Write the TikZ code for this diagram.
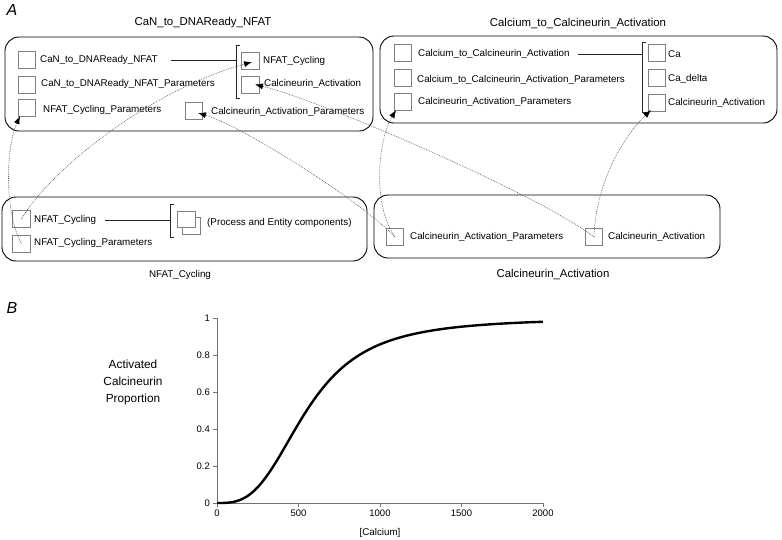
\documentclass[tikz,border=0pt]{standalone}
\usepackage{fontspec}
\setmainfont{Liberation Sans}
\usetikzlibrary{arrows.meta,calc}
\begin{document}
\begin{tikzpicture}[x=1pt,y=-1pt,
  bigbox/.style={draw=black, line width=0.9pt, rounded corners=14pt, inner sep=0pt},
  sq/.style={draw=black!50, line width=0.55pt, minimum width=17.5pt, minimum height=17pt, inner sep=0pt},
  lbl/.style={anchor=west, inner sep=0pt, font=\fontsize{9.8}{11}\selectfont},
  ttl/.style={inner sep=0pt, font=\fontsize{11.4}{13}\selectfont},
  brk/.style={draw=black!85, line width=0.8pt},
  link/.style={draw=black!85, line width=0.8pt},
  imp/.style={draw=black!65, line width=0.6pt, dash pattern=on 0.8pt off 1pt, -{Latex[length=8pt,width=6pt,black]}},
  panel/.style={inner sep=0pt, font=\fontsize{16}{18}\selectfont\itshape},
  axis/.style={draw=black!55, line width=0.7pt},
  tick/.style={inner sep=0pt, font=\fontsize{9.5}{11}\selectfont},
]
\useasboundingbox (0,0) rectangle (782,539);

% panel letters
\node[panel] (pA) at (12,10) {A};
\node[panel] (pB) at (12,308) {B};

% ---------- big boxes ----------
\node[bigbox, minimum width=368pt, minimum height=94pt] (B1) at (189,84) {};
\node[bigbox, minimum width=397pt, minimum height=87pt] (B2) at (578.5,79.5) {};
\node[bigbox, minimum width=365pt, minimum height=64pt] (B3) at (184.5,229) {};
\node[bigbox, minimum width=346pt, minimum height=63pt] (B4) at (547,226.5) {};

\node[ttl] (T1) at (203,23) {CaN\_to\_DNAReady\_NFAT};
\node[ttl] (T2) at (578,23) {Calcium\_to\_Calcineurin\_Activation};
\node[inner sep=0pt, font=\fontsize{9.8}{11}\selectfont] (T3) at (180,275) {NFAT\_Cycling};
\node[ttl] (T4) at (553,274) {Calcineurin\_Activation};

% ---------- box 1 ----------
\node[sq] (s11) at (27,60) {};
\node[lbl] (t11) at (40,60) {CaN\_to\_DNAReady\_NFAT};
\node[sq] (s12) at (27,85) {};
\node[lbl] (t12) at (41,84) {CaN\_to\_DNAReady\_NFAT\_Parameters};
\node[sq] (s13) at (27,108) {};
\node[lbl] (t13) at (43,110) {NFAT\_Cycling\_Parameters};
\node[sq] (s14) at (250.5,60.5) {};
\node[lbl] (t14) at (263,61) {NFAT\_Cycling};
\node[sq] (s15) at (250.5,84.5) {};
\node[lbl] (t15) at (264,83.5) {Calcineurin\_Activation};
\node[sq] (s16) at (194,111) {};
\node[lbl] (t16) at (211,112) {Calcineurin\_Activation\_Parameters};
\coordinate (b1t) at (236,45);
\coordinate (b1b) at (236,98);
\draw[brk] ($(b1t)+(4,0)$) -- (b1t) -- (b1b) -- ($(b1b)+(4,0)$);
\draw[link] ([xshift=13pt]t11.east) -- (t11.east -| b1t);

% ---------- box 2 ----------
\node[sq] (s21) at (403,53) {};
\node[lbl] (t21) at (418,54) {Calcium\_to\_Calcineurin\_Activation};
\node[sq] (s22) at (403,78) {};
\node[lbl] (t22) at (417,80) {Calcium\_to\_Calcineurin\_Activation\_Parameters};
\node[sq] (s23) at (403,102) {};
\node[lbl] (t23) at (418,102) {Calcineurin\_Activation\_Parameters};
\node[sq] (s24) at (657,53) {};
\node[lbl] (t24) at (668,54) {Ca};
\node[sq] (s25) at (657,78) {};
\node[lbl] (t25) at (668,79) {Ca\_delta};
\node[sq] (s26) at (657,103) {};
\node[lbl] (t26) at (668,103) {Calcineurin\_Activation};
\coordinate (b2t) at (642,42);
\coordinate (b2b) at (642,112);
\draw[brk] ($(b2t)+(4,0)$) -- (b2t) -- (b2b) -- ($(b2b)+(4,0)$);
\draw[link] ([xshift=8pt]t21.east) -- (t21.east -| b2t);

% ---------- box 3 ----------
\node[sq] (s31) at (21.5,219) {};
\node[lbl] (t31) at (34,220) {NFAT\_Cycling};
\node[sq] (s32) at (21.5,243.5) {};
\node[lbl] (t32) at (34,243) {NFAT\_Cycling\_Parameters};
\node[sq, minimum width=18pt] (s34) at (191,225.5) {};
\node[sq, fill=white, minimum width=18pt, minimum height=15.5pt] (s33) at (186,219.5) {};
\node[lbl] (t33) at (207,223) {(Process and Entity components)};
\coordinate (b3t) at (170,204);
\coordinate (b3b) at (170,237);
\draw[brk] ($(b3t)+(4,0)$) -- (b3t) -- (b3b) -- ($(b3b)+(4,0)$);
\draw[link] ([xshift=9pt]t31.east) -- (t31.east -| b3t);

% ---------- box 4 ----------
\node[sq] (s41) at (395,237) {};
\node[lbl] (t41) at (410,237) {Calcineurin\_Activation\_Parameters};
\node[sq] (s42) at (594,237) {};
\node[lbl] (t42) at (608,237) {Calcineurin\_Activation};

% ---------- import connectors ----------
\coordinate (e1) at ($(s14.center)+(1.5,1.5)$);
\coordinate (e2) at ($(s13.center)+(-7,8)$);
\coordinate (e3) at ($(s16.center)+(4,2)$);
\coordinate (e4) at ($(s15.center)+(4.5,0)$);
\coordinate (e5) at ($(s23.center)+(-7,8)$);
\coordinate (e6) at ($(s26.center)+(-6,7)$);
\draw[imp] (s31.center) .. controls (50,170) and (150,90) .. (e1);
\draw[imp] (s32.center) .. controls (5,215) and (5,150) .. (e2);
\draw[imp] (s41.center) .. controls (360,200) and (240,125) .. (e3);
\draw[imp] (s42.center) .. controls (540,195) and (320,100) .. (e4);
\draw[imp] (s41.center) .. controls (372,205) and (378,140) .. (e5);
\draw[imp] (s42.center) .. controls (596,180) and (625,135) .. (e6);

% ---------- panel B plot ----------
\coordinate (O) at (217,503);
\coordinate (Y1) at (217,318);
\coordinate (X1) at (543,503);
\draw[axis] (Y1) -- (O) -- (X1);
\foreach \v/\l in {0/0,0.2/0.2,0.4/0.4,0.6/0.6,0.8/0.8,1/1} {
  \draw[axis] (213,{503-185*\v}) -- (217,{503-185*\v});
  \node[tick, anchor=east] (yl\l) at (210,{503-185*\v}) {\l};
}
\foreach \v in {0,500,1000,1500,2000} {
  \draw[axis] ({217+0.163*\v},503) -- ({217+0.163*\v},507);
  \node[tick, anchor=north] (xl\v) at ({217+0.163*\v},510) {\v};
}
\draw[line width=2.4pt, line join=round] plot[domain=0:3.6364, samples=160, smooth]
  ({217+89.65*\x}, {503-185*(\x*\x*\x/(1+\x*\x*\x))});
\node[inner sep=0pt, font=\fontsize{9.8}{11}\selectfont] (xlab) at (380,533) {[Calcium]};
\node[inner sep=0pt, align=center, font=\fontsize{11.8}{17}\selectfont] (ylab) at (133,382) {Activated\\Calcineurin\\Proportion};
\end{tikzpicture}
\end{document}
